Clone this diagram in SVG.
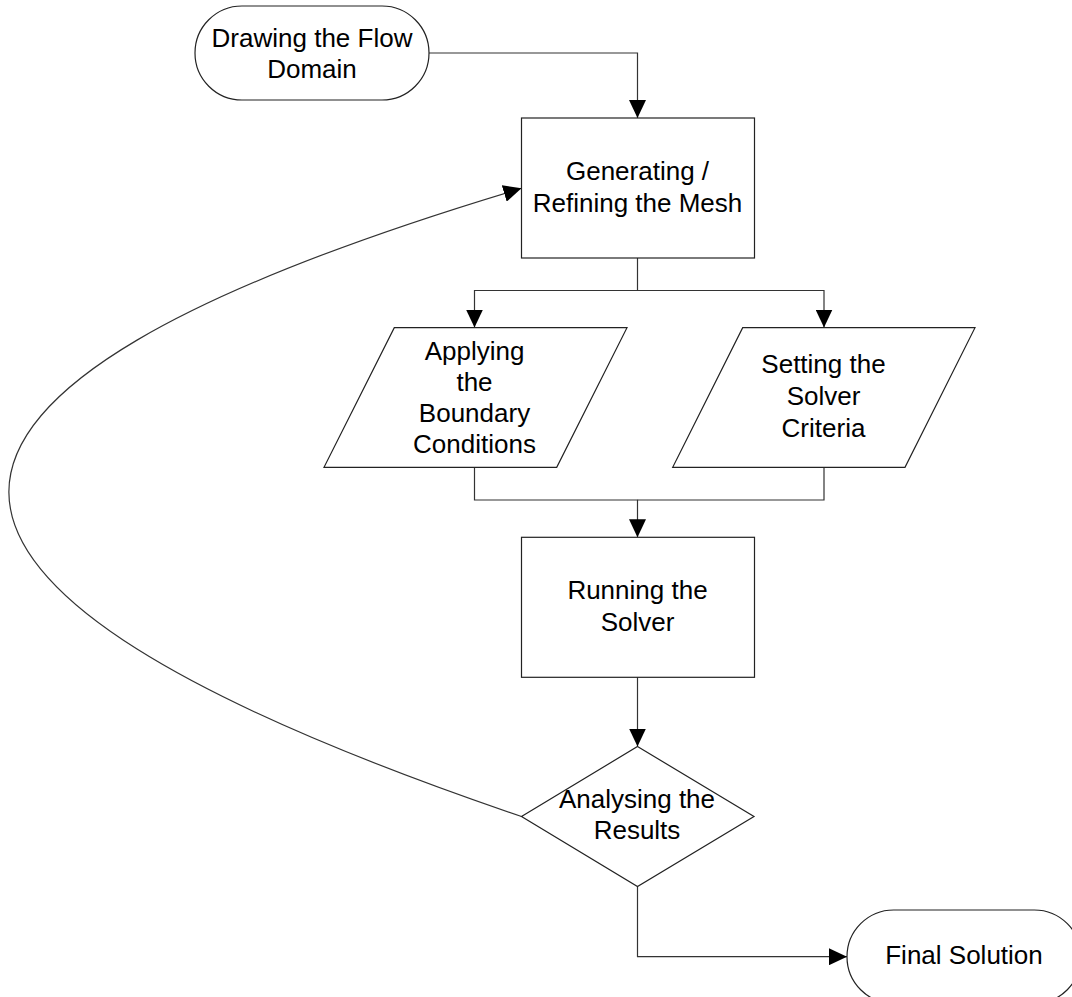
<svg xmlns="http://www.w3.org/2000/svg" width="1072" height="997" viewBox="0 0 1072 997">
<style>
.shape{fill:#fff;stroke:#222;stroke-width:1.2}
.conn{fill:none;stroke:#333;stroke-width:1.2}
text{font-family:"Liberation Sans",Arial,sans-serif;font-size:26px;fill:#000;text-anchor:middle}
</style>
<defs>
<marker id="arr" markerUnits="userSpaceOnUse" markerWidth="18" markerHeight="17" refX="18" refY="8.5" orient="auto" viewBox="0 0 18 17">
<path d="M0,0 L18,8.5 L0,17 z" fill="#000"/>
</marker>
</defs>
<rect width="1072" height="997" fill="#fff"/>
<g id="connectors">
<path class="conn" d="M429,53 H637.5 V118" marker-end="url(#arr)"/>
<path class="conn" d="M637.5,258 V290.5 H474.5 V327.5" marker-end="url(#arr)"/>
<path class="conn" d="M637.5,290.5 H824 V327.5" marker-end="url(#arr)"/>
<path class="conn" d="M474.5,467 V500 H637.5 V537.3" marker-end="url(#arr)"/>
<path class="conn" d="M824,467 V500 H637.5"/>
<path class="conn" d="M637.5,677 V746.5" marker-end="url(#arr)"/>
<path class="conn" d="M637.5,886.5 V956.7 H847" marker-end="url(#arr)"/>
<path class="conn" d="M521.5,816.5 C-162,584 -162,393 521.5,188.3" marker-end="url(#arr)"/>
</g>
<g id="start">
<rect class="shape" x="195" y="6" width="234" height="94" rx="47" ry="47"/>
<text x="312" y="46.7">Drawing the Flow</text>
<text x="312" y="77.7">Domain</text>
</g>
<g id="mesh">
<rect class="shape" x="521.5" y="118" width="233" height="140"/>
<text x="637.5" y="180">Generating /</text>
<text x="637.5" y="212">Refining the Mesh</text>
</g>
<g id="boundary">
<polygon class="shape" points="394.3,327.7 627,327.7 556.7,467.3 324,467.3"/>
<text x="474.5" y="360">Applying</text>
<text x="474.5" y="390.5">the</text>
<text x="474.5" y="421.7">Boundary</text>
<text x="474.5" y="452.7">Conditions</text>
</g>
<g id="criteria">
<polygon class="shape" points="742.7,327.7 975,327.7 905,467.3 672.7,467.3"/>
<text x="823.5" y="373">Setting the</text>
<text x="823.5" y="405">Solver</text>
<text x="823.5" y="436.7">Criteria</text>
</g>
<g id="solver">
<rect class="shape" x="521.5" y="537.3" width="233" height="140"/>
<text x="637.5" y="598.5">Running the</text>
<text x="637.5" y="630.7">Solver</text>
</g>
<g id="analyse">
<polygon class="shape" points="637.5,746.5 754,816.5 637.5,886.5 521.5,816.5"/>
<text x="637" y="808.3">Analysing the</text>
<text x="637" y="838.5">Results</text>
</g>
<g id="final">
<rect class="shape" x="847" y="910" width="234" height="93.4" rx="46.7" ry="46.7"/>
<text x="964" y="963.5">Final Solution</text>
</g>
</svg>
